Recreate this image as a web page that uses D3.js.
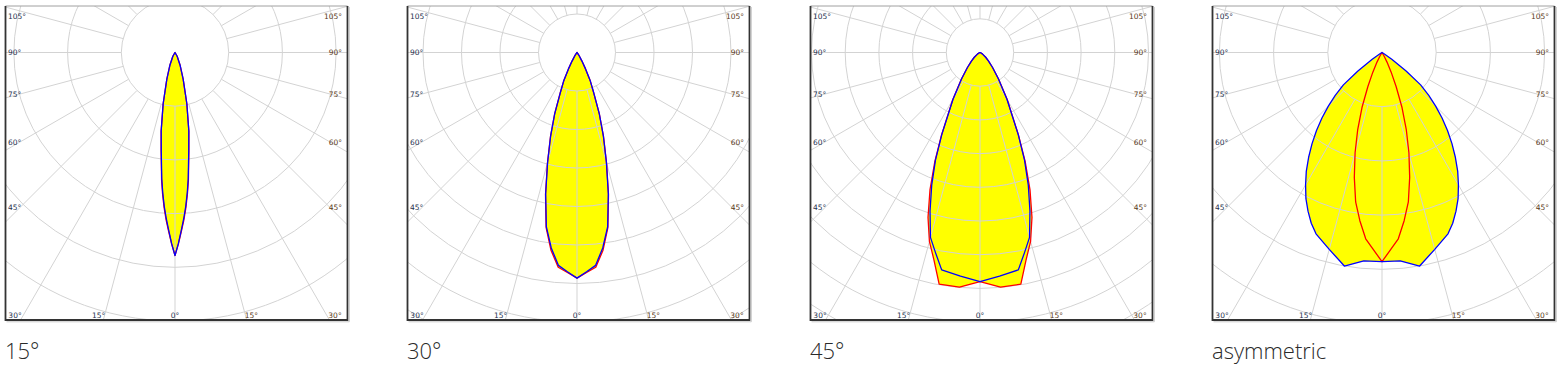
<!DOCTYPE html>
<html>
<head>
<meta charset="utf-8">
<script src="https://cdn.jsdelivr.net/npm/d3@7"></script>
<style>
  body { margin: 0; background: #fff; }
  .tick { font-family: "DejaVu Sans", sans-serif; font-size: 7.5px; }
  .title { font-family: "Open Sans", sans-serif; font-size: 22px; font-weight: 300; fill: #2a2a2a; }
</style>
</head>
<body>
<svg id="chart" width="1563" height="371"></svg>
<script>

// panel titles and the intensity step between two grid rings (cd/klm)
var titles = ["15°", "30°", "45°", "asymmetric"];
var ringSteps = [2000, 1000, 500, 1000];

// tick labels round the frame
var sideAngles = [105, 90, 75, 60, 45];
var bottomAngles = [-30, -15, 0, 15, 30];

// 15° beam: gamma angles and intensities (C0-180 blue, C90-270 red)
var gamma15 = [0, 1, 2, 3, 4, 5, 6, 8, 10, 13, 17, 22, 30, 45, 90];
var blue15 = [7560, 7120, 6640, 6200, 5740, 5240, 4720, 3680, 2960, 1960, 1040, 500, 160, 0, 0];
var red15 = [7560, 7140, 6680, 6260, 5800, 5300, 4780, 3720, 2980, 1960, 1040, 500, 160, 0, 0];

// 30° beam
var gamma30 = [0, 2.5, 5, 7.5, 10, 12.5, 15, 17.5, 20, 22.5, 25, 27.5, 30, 35, 40, 50, 90];
var blue30 = [5860, 5700, 5550, 5120, 4590, 3760, 2950, 2280, 1690, 1140, 820, 480, 250, 80, 20, 0, 0];
var red30 = [5860, 5720, 5600, 5180, 4620, 3780, 2960, 2290, 1700, 1140, 820, 480, 250, 80, 20, 0, 0];

// 45° beam
var gamma45 = [0, 5, 10, 12.5, 15, 17.5, 20, 22.5, 25, 27.5, 30, 35, 40, 45, 50, 60, 70, 90];
var blue45 = [3400, 3330, 3275, 3045, 2840, 2465, 2095, 1725, 1340, 1000, 800, 475, 290, 180, 110, 40, 10, 0];
var red45 = [3400, 3495, 3490, 3155, 2900, 2565, 2170, 1750, 1350, 1010, 810, 480, 290, 180, 110, 40, 10, 0];

// asymmetric: wide C0-180 plane, narrow C90-270 plane
var gammaAsymBlue = [0, 5, 10, 15, 20, 22.5, 25, 27.5, 30, 32.5, 35, 37.5, 40, 42.5, 45, 47.5, 50, 52.5, 55, 57.5, 60, 70, 90];
var blueAsym = [3860, 3860, 4000, 3760, 3560, 3410, 3230, 3040, 2820, 2600, 2360, 2120, 1880, 1640, 1400, 1170, 930, 560, 220, 60, 10, 0, 0];
var gammaAsymRed = [0, 2.5, 5, 7.5, 10, 12.5, 15, 17.5, 20, 22.5, 25, 27.5, 30, 35, 40, 90];
var redAsym = [3860, 3640, 3450, 3130, 2800, 2360, 1920, 1490, 1080, 680, 400, 200, 80, 10, 0, 0];

var series = [
    { blue: [gamma15, blue15], red: [gamma15, red15] },
    { blue: [gamma30, blue30], red: [gamma30, red30] },
    { blue: [gamma45, blue45], red: [gamma45, red45] },
    { blue: [gammaAsymBlue, blueAsym], red: [gammaAsymRed, redAsym] }
];

// layout
var frameLeft = [5.5, 407.5, 810.5, 1212.5];
var ringPx = [53.7, 38.5, 33.7, 54.2];
var frameTop = 6, frameW = 342, frameH = 314;
var cyOff = 46.5, cxOff = 169.5;

var svg = d3.select("#chart");

// mirror a half curve (0..90) into -90..90
function fullCurve(g, v) {
    var pts = [];
    for (var i = g.length - 1; i >= 0; i--) pts.push({ a: -g[i], v: v[i] });
    for (var j = 1; j < g.length; j++) pts.push({ a: g[j], v: v[j] });
    return pts;
}

var deg = Math.PI / 180;

titles.forEach(function (title, p) {
    var x0 = frameLeft[p];
    var cx = x0 + cxOff, cy = frameTop + cyOff;

    var r = d3.scaleLinear().domain([0, ringSteps[p]]).range([0, ringPx[p]]);

    var clipId = "clip" + p;
    svg.append("clipPath").attr("id", clipId)
        .append("rect")
        .attr("x", x0).attr("y", frameTop)
        .attr("width", frameW).attr("height", frameH);

    var panel = svg.append("g").attr("clip-path", "url(#" + clipId + ")");
    var g = panel.append("g").attr("transform", "translate(" + cx + "," + cy + ")");

    // gamma 0 points down: lineRadial angle is measured clockwise from 12 o'clock
    var line = d3.lineRadial()
        .angle(function (d) { return Math.PI - d.a * deg; })
        .radius(function (d) { return r(d.v); })
        .curve(d3.curveLinearClosed);

    var s = series[p];
    var redPts = fullCurve(s.red[0], s.red[1]);
    var bluePts = fullCurve(s.blue[0], s.blue[1]);

    // yellow fill = union of both planes
    [redPts, bluePts].forEach(function (pts) {
        g.append("path").attr("d", line(pts)).attr("fill", "#ffff00").attr("stroke", "none");
    });

    // grid rings
    var maxR = 420;
    var rings = d3.range(1, Math.ceil(maxR / ringPx[p]) + 1);
    g.selectAll(".ring").data(rings).enter().append("circle")
        .attr("class", "ring")
        .attr("r", function (d) { return r(d * ringSteps[p]); })
        .attr("fill", "none")
        .attr("stroke", "#d3d3d3")
        .attr("stroke-width", 1);

    // radial lines every 15°
    var spokes = d3.range(0, 360, 15);
    g.selectAll(".spoke").data(spokes).enter().append("line")
        .attr("class", "spoke")
        .attr("x1", function (d) { return ringPx[p] * Math.sin(d * deg); })
        .attr("y1", function (d) { return ringPx[p] * Math.cos(d * deg); })
        .attr("x2", function (d) { return maxR * Math.sin(d * deg); })
        .attr("y2", function (d) { return maxR * Math.cos(d * deg); })
        .attr("stroke", "#d3d3d3")
        .attr("stroke-width", 1);

    // curves
    g.append("path").attr("d", line(redPts))
        .attr("fill", "none").attr("stroke", "#ff0000").attr("stroke-width", 1.3)
        .attr("stroke-linejoin", "round");
    g.append("path").attr("d", line(bluePts))
        .attr("fill", "none").attr("stroke", "#0000ff").attr("stroke-width", 1.3)
        .attr("stroke-linejoin", "round");

    // side tick labels
    sideAngles.forEach(function (a) {
        var y = 155 * Math.cos(a * deg) / Math.sin(a * deg);
        y = Math.max(y, -cyOff + 10);
        g.append("text").attr("class", "tick")
            .attr("x", -167).attr("y", y).attr("dy", "0.35em")
            .attr("text-anchor", "start").attr("fill", "#27314f")
            .text(a + "°");
        g.append("text").attr("class", "tick")
            .attr("x", 167).attr("y", y).attr("dy", "0.35em")
            .attr("text-anchor", "end").attr("fill", "#5a3a1a")
            .text(a + "°");
    });

    // bottom tick labels
    bottomAngles.forEach(function (a) {
        var x = Math.max(-160, Math.min(160, 285 * Math.tan(a * deg)));
        g.append("text").attr("class", "tick")
            .attr("x", x).attr("y", 262.5).attr("dy", "0.35em")
            .attr("text-anchor", "middle")
            .attr("fill", a > 0 ? "#5a3a1a" : "#27314f")
            .text(Math.abs(a) + "°");
    });

    // frame
    svg.append("line")
        .attr("x1", x0).attr("x2", x0 + frameW)
        .attr("y1", frameTop).attr("y2", frameTop)
        .attr("stroke", "#a0a0a0").attr("stroke-width", 1);
    svg.append("path")
        .attr("d", "M" + x0 + "," + frameTop + "V" + (frameTop + frameH) +
            "H" + (x0 + frameW) + "V" + frameTop)
        .attr("fill", "none").attr("stroke", "#333").attr("stroke-width", 1.8);
    svg.append("path")
        .attr("d", "M" + (x0 + 1) + "," + (frameTop + frameH + 1.8) +
            "H" + (x0 + frameW + 1.8) + "V" + (frameTop + 1))
        .attr("fill", "none").attr("stroke", "#c8c8c8").attr("stroke-width", 1);

    // panel title
    svg.append("text").attr("class", "title")
        .attr("x", x0 - 0.5).attr("y", 359)
        .text(title);
});
</script>
</body>
</html>
